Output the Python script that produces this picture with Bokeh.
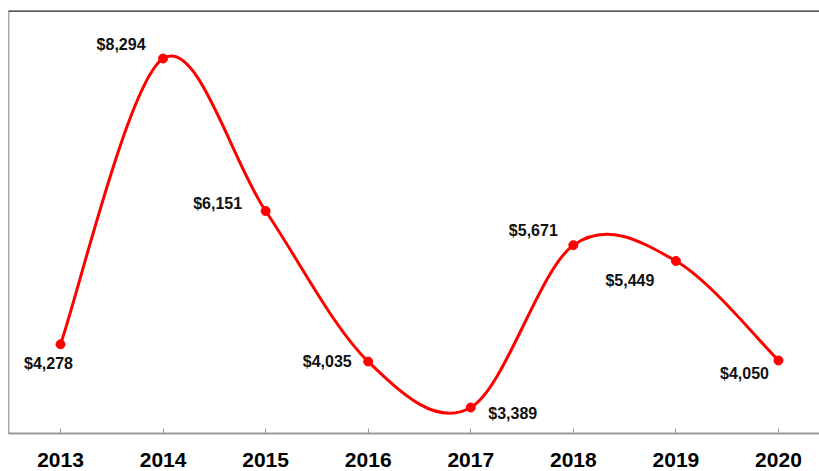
from bokeh.plotting import figure
from bokeh.models import Range1d, FixedTicker, ColumnDataSource, LabelSet, Span
from bokeh.core.properties import value
from bokeh.embed import file_html
from bokeh.resources import INLINE

years = [2013, 2014, 2015, 2016, 2017, 2018, 2019, 2020]
values = [4278, 8294, 6151, 4035, 3389, 5671, 5449, 4050]
labels = ["$4,278", "$8,294", "$6,151", "$4,035", "$3,389", "$5,671", "$5,449", "$4,050"]

# label offsets in screen pixels (style only)
dx = [-12, -42, -48, -41, 42, -40, -46, -34]
dy = [-19, 14, 8, 0, -6, 15, -20, -13]

p = figure(width=819, height=471, output_backend="svg", toolbar_location=None,
           x_range=Range1d(2012.493, 2020.40), y_range=Range1d(3024, 8969),
           min_border_left=8, min_border_right=0, min_border_top=10, min_border_bottom=38)
p.outline_line_color = None
p.grid.visible = False
p.yaxis.visible = False
p.background_fill_color = "white"
p.border_fill_color = "white"

ax = p.xaxis[0]
ax.ticker = FixedTicker(ticks=years)
ax.axis_line_color = "#9a9a9a"
ax.axis_line_width = 2
ax.major_tick_line_color = "#9a9a9a"
ax.major_tick_in = 5
ax.major_tick_out = 0
ax.minor_tick_line_color = None
ax.major_label_text_font = "Liberation Sans"
ax.major_label_text_font_style = "bold"
ax.major_label_text_font_size = "21px"
ax.major_label_text_color = "black"
ax.major_label_standoff = 19

# frame borders (left and top)
p.add_layout(Span(location=2012.493, dimension="height", line_color="#555555", line_width=1.5))
p.add_layout(Span(location=8969, dimension="width", line_color="#222222", line_width=2.5))

# smoothed line (Excel-style bezier through the points)
n = len(years)
x0, y0, x1, y1, cx0, cy0, cx1, cy1 = [], [], [], [], [], [], [], []
for i in range(n - 1):
    xp, yp = (years[i - 1], values[i - 1]) if i > 0 else (years[i], values[i])
    xn, yn = (years[i + 2], values[i + 2]) if i + 2 < n else (years[i + 1], values[i + 1])
    x0.append(years[i]); y0.append(values[i])
    x1.append(years[i + 1]); y1.append(values[i + 1])
    cx0.append(years[i] + (years[i + 1] - xp) / 6)
    cy0.append(values[i] + (values[i + 1] - yp) / 6)
    cx1.append(years[i + 1] - (xn - years[i]) / 6)
    cy1.append(values[i + 1] - (yn - values[i]) / 6)
p.bezier(x0=x0, y0=y0, x1=x1, y1=y1, cx0=cx0, cy0=cy0, cx1=cx1, cy1=cy1,
         line_color="#ff0000", line_width=3)

src = ColumnDataSource(dict(x=years, y=values, t=labels, dx=dx, dy=dy))
p.scatter("x", "y", source=src, size=9, color="#ff0000")
p.add_layout(LabelSet(x="x", y="y", text="t", source=src, x_offset="dx", y_offset="dy",
                      text_align="center", text_baseline="middle",
                      text_font=value("Liberation Sans"), text_font_style="bold",
                      text_font_size="16px", text_color="#111111"))

open("out.html", "w").write(file_html(p, INLINE))
